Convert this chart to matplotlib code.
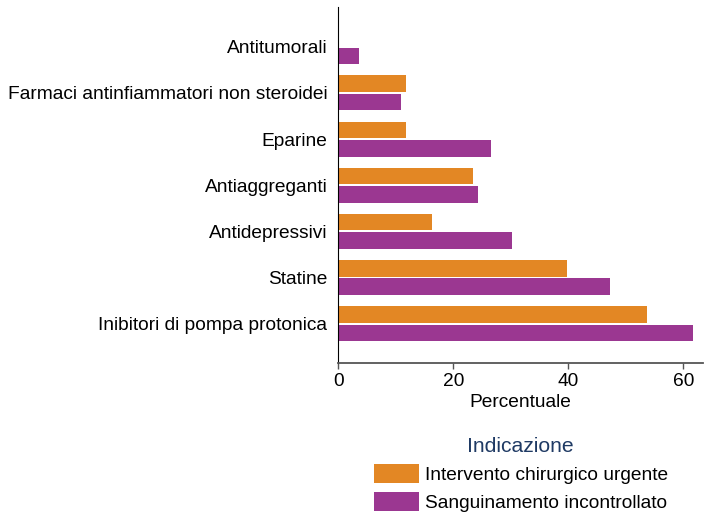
import matplotlib
matplotlib.use("Agg")
import matplotlib.pyplot as plt
import numpy as np
from matplotlib.patches import Patch

plt.rcParams['font.family'] = ['Liberation Sans', 'DejaVu Sans']

categories = ["Inibitori di pompa protonica", "Statine", "Antidepressivi",
              "Antiaggreganti", "Eparine", "Farmaci antinfiammatori non steroidei",
              "Antitumorali"]
series_names = ["Intervento chirurgico urgente", "Sanguinamento incontrollato"]
urgente = [53.6, 39.7, 16.3, 23.4, 11.75, 11.75, 0]
sanguinamento = [61.6, 47.2, 30.2, 24.2, 26.6, 10.9, 3.65]
xticks = [0, 20, 40, 60]

c_orange = "#E38724"
c_purple = "#9B3791"
FS = 13.8

fig = plt.figure(figsize=(7.04, 5.13), dpi=100)
ax = fig.add_axes([0.4806, 0.2918, 0.5180, 0.6952])

y = np.arange(len(categories))
h = 0.36
ax.barh(y + 0.2, urgente, height=h, color=c_orange)
ax.barh(y - 0.2, sanguinamento, height=h, color=c_purple)

ax.set_xlim(0, 63.4)
ax.set_ylim(-0.86, 6.87)
ax.set_yticks(y)
ax.set_yticklabels(categories, fontsize=FS)
ax.set_xticks(xticks)
ax.set_xticklabels([str(t) for t in xticks], fontsize=FS)
ax.tick_params(axis='y', length=0, pad=8)
ax.tick_params(axis='x', length=4.3, width=1, color="#555555", pad=2.5)
ax.set_xlabel("Percentuale", fontsize=FS, labelpad=3)

for s in ['top', 'right']:
    ax.spines[s].set_visible(False)
ax.spines['left'].set_color('black')
ax.spines['bottom'].set_color('#555555')
ax.spines['bottom'].set_linewidth(1.3)

handles = [Patch(facecolor=c_orange), Patch(facecolor=c_purple)]
leg = fig.legend(handles, series_names, loc='upper left', bbox_to_anchor=(0.531, 0.149),
                 frameon=False, fontsize=FS, title="Indicazione", title_fontsize=15.2,
                 handlelength=2.35, handleheight=1.15, handletextpad=0.3,
                 labelspacing=0.42, borderpad=0, borderaxespad=0)
leg.get_title().set_color("#1F3A64")

fig.savefig("out.png", dpi=100)
